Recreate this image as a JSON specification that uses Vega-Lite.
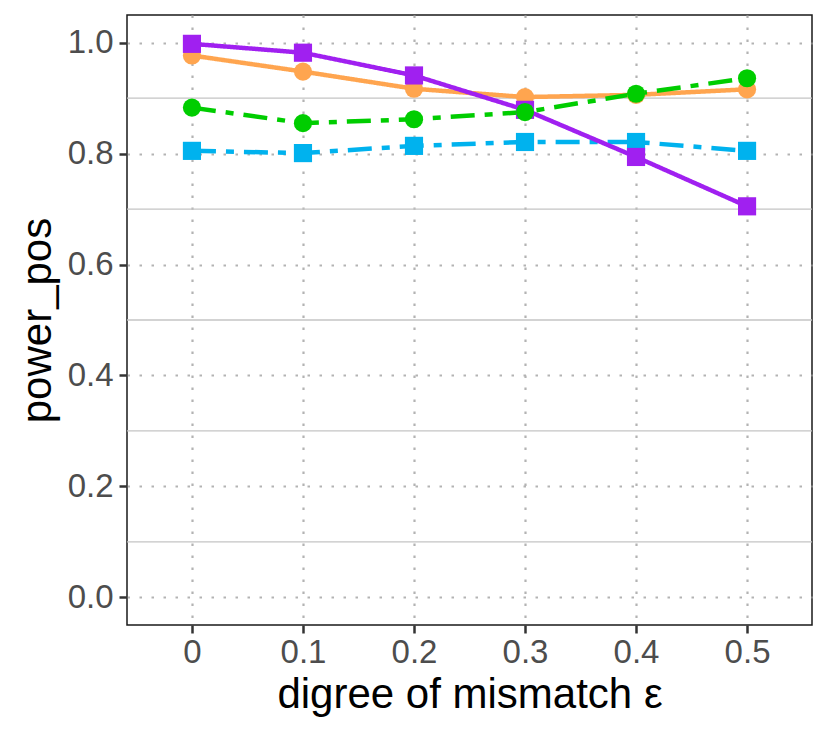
{
  "$schema": "https://vega.github.io/schema/vega-lite/v6.json",
  "width": 685,
  "height": 610,
  "autosize": "none",
  "padding": {"left": 127, "top": 15, "right": 18, "bottom": 122},
  "background": "white",
  "config": {
    "view": {"stroke": "#1a1a1a", "strokeWidth": 1.5},
    "font": "'Liberation Sans', Arial, sans-serif",
    "axis": {
      "domain": false,
      "tickColor": "#333333",
      "tickWidth": 2.5,
      "tickSize": 8,
      "labelColor": "#4d4d4d",
      "labelFontSize": 33,
      "labelPadding": 6,
      "titleColor": "black",
      "titleFontSize": 42,
      "titleFontWeight": "normal",
      "gridColor": "#b3b3b3",
      "gridWidth": 2.2,
      "gridDash": [2.5, 9.5]
    }
  },
  "datasets": {
    "minor": [{"y": 0.1}, {"y": 0.3}, {"y": 0.5}, {"y": 0.7}, {"y": 0.9}],
    "power": [
      {"series": "B", "eps": 0, "power": 0.805},
      {"series": "B", "eps": 0.1, "power": 0.801},
      {"series": "B", "eps": 0.2, "power": 0.814},
      {"series": "B", "eps": 0.3, "power": 0.821},
      {"series": "B", "eps": 0.4, "power": 0.821},
      {"series": "B", "eps": 0.5, "power": 0.805},
      {"series": "O", "eps": 0, "power": 0.977},
      {"series": "O", "eps": 0.1, "power": 0.948},
      {"series": "O", "eps": 0.2, "power": 0.917},
      {"series": "O", "eps": 0.3, "power": 0.902},
      {"series": "O", "eps": 0.4, "power": 0.906},
      {"series": "O", "eps": 0.5, "power": 0.916},
      {"series": "P", "eps": 0, "power": 0.998},
      {"series": "P", "eps": 0.1, "power": 0.982},
      {"series": "P", "eps": 0.2, "power": 0.941},
      {"series": "P", "eps": 0.3, "power": 0.879},
      {"series": "P", "eps": 0.4, "power": 0.794},
      {"series": "P", "eps": 0.5, "power": 0.705},
      {"series": "G", "eps": 0, "power": 0.883},
      {"series": "G", "eps": 0.1, "power": 0.855},
      {"series": "G", "eps": 0.2, "power": 0.862},
      {"series": "G", "eps": 0.3, "power": 0.875},
      {"series": "G", "eps": 0.4, "power": 0.908},
      {"series": "G", "eps": 0.5, "power": 0.936}
    ]
  },
  "layer": [
    {
      "data": {"name": "minor"},
      "mark": {"type": "rule", "color": "#c4c4c4", "strokeWidth": 1.3},
      "encoding": {
        "y": {"field": "y", "type": "quantitative", "scale": {"domain": [-0.05, 1.05], "nice": false, "zero": false},
          "axis": {"values": [0, 0.2, 0.4, 0.6, 0.8, 1.0], "format": ".1f", "grid": true, "title": "power_pos", "titlePadding": 8}}
      }
    },
    {
      "data": {"name": "power"},
      "mark": {"type": "line", "strokeWidth": 4.5},
      "encoding": {
        "x": {
          "field": "eps", "type": "quantitative",
          "scale": {"domain": [-0.0585, 0.5585], "nice": false, "zero": false},
          "axis": {"values": [0, 0.1, 0.2, 0.3, 0.4, 0.5], "grid": true, "title": "digree of mismatch ε",
            "labelExpr": "datum.value == 0 ? '0' : format(datum.value, '.1f')", "labelPadding": 3, "titlePadding": 5}
        },
        "y": {
          "field": "power", "type": "quantitative",
          "scale": {"domain": [-0.05, 1.05], "nice": false, "zero": false},
          "axis": {"values": [0, 0.2, 0.4, 0.6, 0.8, 1.0], "format": ".1f", "grid": true, "title": "power_pos", "titlePadding": 8}
        },
        "color": {"field": "series", "type": "nominal", "legend": null,
          "scale": {"domain": ["B", "O", "P", "G"], "range": ["#00b2ee", "#ffa54f", "#a020f0", "#00cd00"]}},
        "strokeDash": {"field": "series", "type": "nominal", "legend": null,
          "scale": {"domain": ["B", "O", "P", "G"], "range": [[24, 10, 8, 10], [1, 0], [1, 0], [24, 10, 8, 10]]}},
        "order": {"field": "eps", "type": "quantitative"}
      }
    },
    {
      "data": {"name": "power"},
      "mark": {"type": "point", "filled": true, "opacity": 1},
      "encoding": {
        "x": {"field": "eps", "type": "quantitative"},
        "y": {"field": "power", "type": "quantitative"},
        "color": {"field": "series", "type": "nominal", "legend": null},
        "shape": {"field": "series", "type": "nominal", "legend": null,
          "scale": {"domain": ["B", "O", "P", "G"], "range": ["square", "circle", "square", "circle"]}},
        "size": {"value": 330}
      }
    }
  ]
}
